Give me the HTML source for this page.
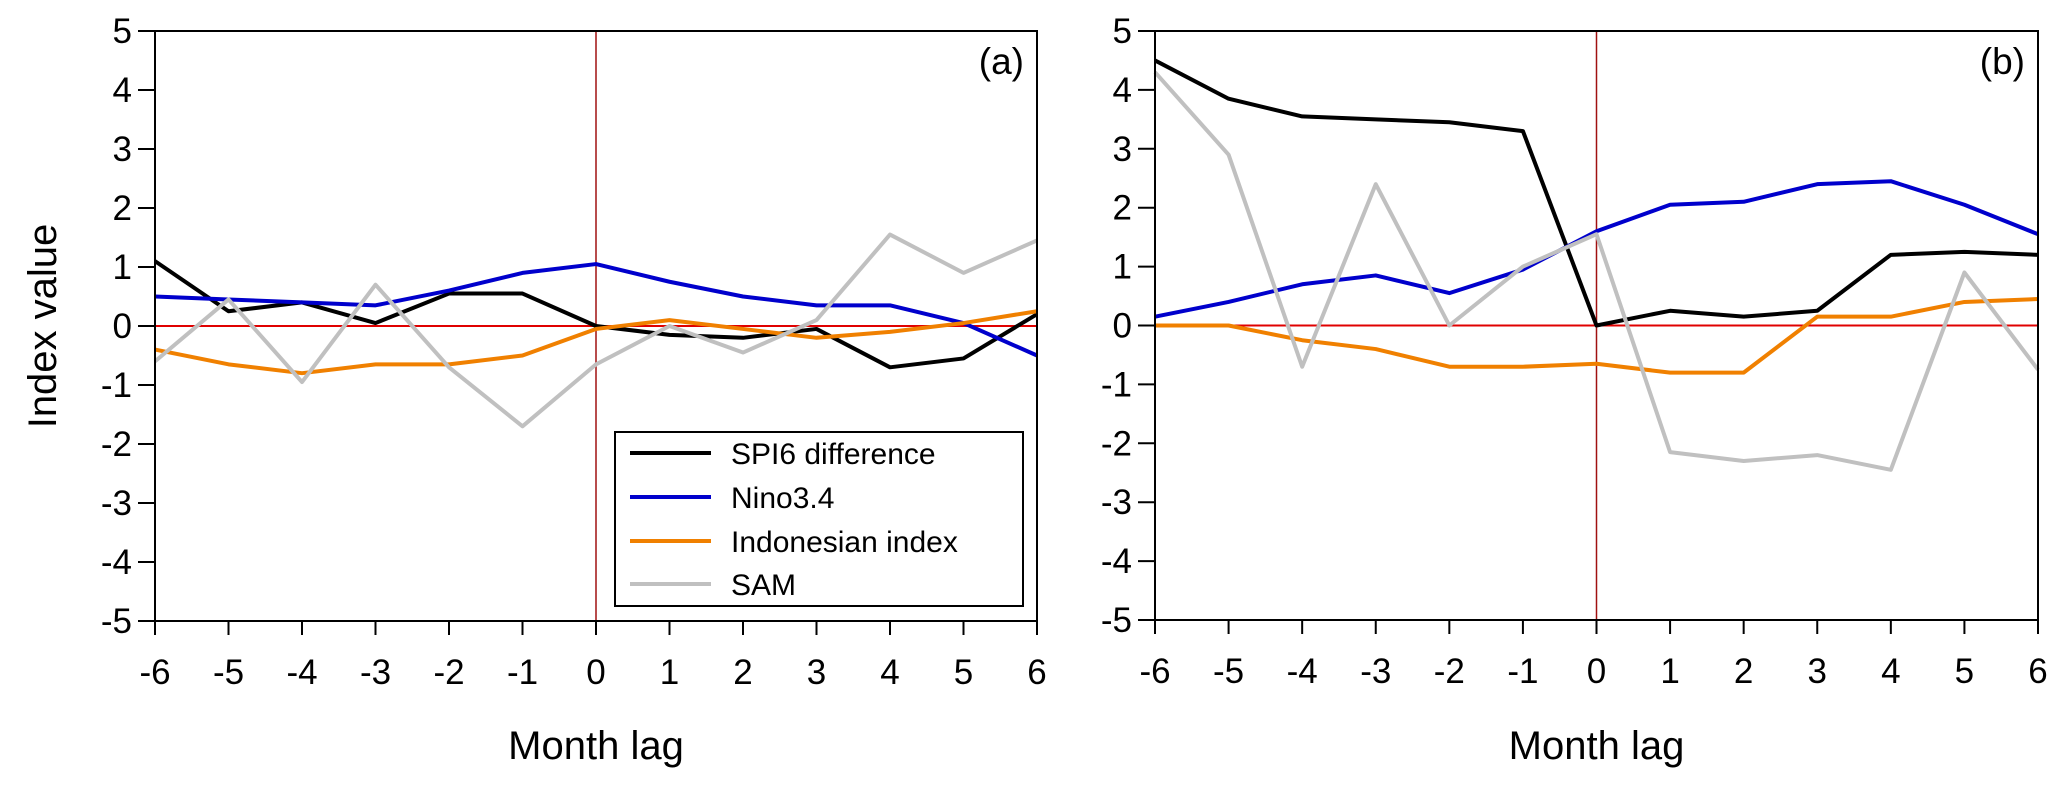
<!DOCTYPE html>
<html><head><meta charset="utf-8"><style>
html,body{margin:0;padding:0;background:#fff;}
svg{display:block;font-family:"Liberation Sans",Arial,sans-serif;}
</style></head><body>
<svg id="chart" width="2067" height="785" viewBox="0 0 2067 785"></svg>
<script>
const lags = [-6,-5,-4,-3,-2,-1,0,1,2,3,4,5,6];
const yTicks = [5,4,3,2,1,0,-1,-2,-3,-4,-5];
const seriesNames = ["SPI6 difference","Nino3.4","Indonesian index","SAM"];
const seriesColors = ["#000000","#0000cc","#f08000","#c0c0c0"];
const aSpi = [1.1,0.25,0.4,0.05,0.55,0.55,0.0,-0.15,-0.2,-0.05,-0.7,-0.55,0.2];
const aNino = [0.5,0.45,0.4,0.35,0.6,0.9,1.05,0.75,0.5,0.35,0.35,0.05,-0.5];
const aIndo = [-0.4,-0.65,-0.8,-0.65,-0.65,-0.5,-0.05,0.1,-0.05,-0.2,-0.1,0.05,0.25];
const aSam = [-0.6,0.45,-0.95,0.7,-0.7,-1.7,-0.65,0.0,-0.45,0.1,1.55,0.9,1.45];
const bSpi = [4.5,3.85,3.55,3.5,3.45,3.3,0.0,0.25,0.15,0.25,1.2,1.25,1.2];
const bNino = [0.15,0.4,0.7,0.85,0.55,0.95,1.6,2.05,2.1,2.4,2.45,2.05,1.55];
const bIndo = [0.0,0.0,-0.25,-0.4,-0.7,-0.7,-0.65,-0.8,-0.8,0.15,0.15,0.4,0.45];
const bSam = [4.3,2.9,-0.7,2.4,0.0,1.0,1.55,-2.15,-2.3,-2.2,-2.45,0.9,-0.75];

const NS="http://www.w3.org/2000/svg";
const svg=document.getElementById('chart');
function el(tag,attrs,parent){const e=document.createElementNS(NS,tag);for(const k in attrs)e.setAttribute(k,attrs[k]);(parent||svg).appendChild(e);return e;}

function panel(id,left,right,top,bottom,data,label,legend){
  const g=el('g',{});
  
  
  const xs=v=>left+(v+6)/12*(right-left);
  const ys=v=>top+(5-v)/10*(bottom-top);
  const h=el('line',{x1:left,x2:right,y1:ys(0),y2:ys(0),stroke:'#e00000','stroke-width':2},g);
  
  
  const v=el('line',{x1:xs(0),x2:xs(0),y1:top,y2:bottom,stroke:'#a01010','stroke-width':1.5},g);
  
  
  data.forEach((arr,i)=>{
    const p=el('polyline',{points:arr.map((d,j)=>xs(lags[j])+','+ys(d)).join(' '),fill:'none',stroke:seriesColors[i],'stroke-width':4,'stroke-linejoin':'round'},g);
    
    
  });
  const f=el('rect',{x:left,y:top,width:right-left,height:bottom-top,fill:'none',stroke:'#000','stroke-width':2},g);
  
  
  yTicks.forEach(t=>{
    el('line',{x1:left-17,x2:left,y1:ys(t),y2:ys(t),stroke:'#000','stroke-width':2},g);
    const tx=el('text',{x:left-23,y:ys(t)+12,'text-anchor':'end','font-size':35},g);
    tx.textContent=t;
    
    
  });
  lags.forEach(t=>{
    el('line',{x1:xs(t),x2:xs(t),y1:bottom,y2:bottom+14,stroke:'#000','stroke-width':2},g);
    const tx=el('text',{x:xs(t),y:bottom+63,'text-anchor':'middle','font-size':35},g);
    tx.textContent=t;
    
    
  });
  const xt=el('text',{x:(left+right)/2,y:759,'text-anchor':'middle','font-size':40},g);
  xt.textContent='Month lag';
  
  
  const pl=el('text',{x:right-13,y:top+43,'text-anchor':'end','font-size':37},g);
  pl.textContent=label;
  
  
  if(legend){
    const lg=el('g',{},g);
    
    
    el('rect',{x:615,y:432,width:408,height:174,fill:'#fff',stroke:'#000','stroke-width':2},lg);
    const ly=[453,497,541,584];
    seriesNames.forEach((n,i)=>{
      const e=el('g',{},lg);
      
      
      el('line',{x1:630,x2:711,y1:ly[i],y2:ly[i],stroke:seriesColors[i],'stroke-width':4},e);
      const t=el('text',{x:731,y:ly[i]+11,'font-size':30},e);
      t.textContent=n;
    });
  }
}
panel('a',155,1037,31,621,[aSpi,aNino,aIndo,aSam],'(a)',true);
panel('b',1155,2038,31,620,[bSpi,bNino,bIndo,bSam],'(b)',false);
const yt=el('text',{x:0,y:0,'text-anchor':'middle','font-size':40,transform:'translate(56,326) rotate(-90)'});
yt.textContent='Index value';


</script>
</body></html>
